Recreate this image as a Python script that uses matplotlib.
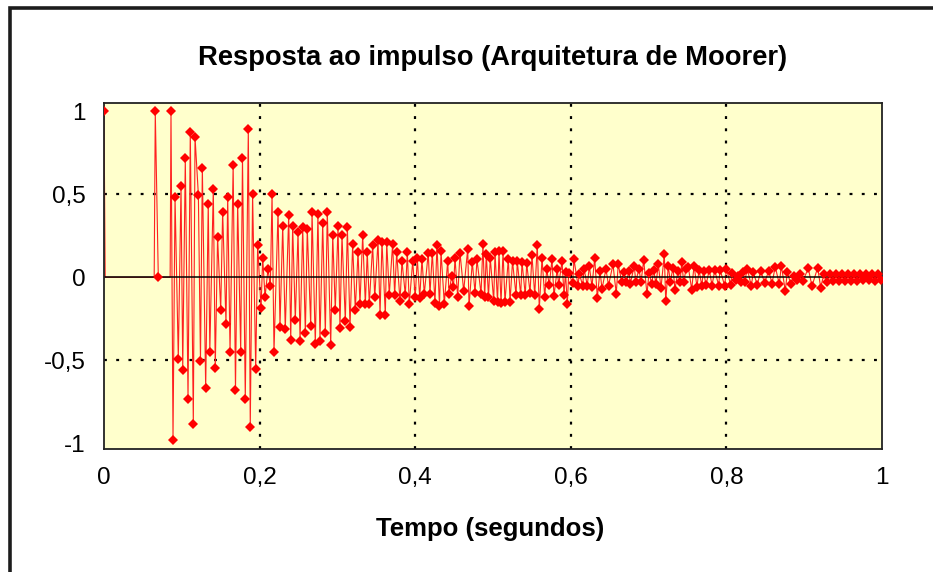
import matplotlib
matplotlib.use("Agg")
import matplotlib.pyplot as plt
from matplotlib.patches import Rectangle
import numpy as np

plt.rcParams['font.family'] = ['Liberation Sans', 'DejaVu Sans']

# ---- data ----
title = "Resposta ao impulso (Arquitetura de Moorer)"
xlabel = "Tempo (segundos)"
x_ticks = [0, 0.2, 0.4, 0.6, 0.8, 1]
x_ticklabels = ["0", "0,2", "0,4", "0,6", "0,8", "1"]
y_ticks = [-1, -0.5, 0, 0.5, 1]
y_ticklabels = ["-1", "-0,5", "0", "0,5", "1"]

# samples without a visible marker (silent stretches at zero)
t_silent = [0.0015, 0.0645, 0.0715, 0.0850]
y_silent = [0.0, 0.0, 0.0, 0.0]

# samples drawn with a marker
t_marked = [
    0.000, 0.0659, 0.0698, 0.0861, 0.0887, 0.0913, 0.0955, 0.0990, 0.1012, 0.1045,
    0.1080, 0.1109, 0.1148, 0.1170, 0.1213, 0.1240, 0.1264, 0.1307, 0.1340, 0.1360,
    0.1405, 0.1430, 0.1460, 0.1500, 0.1525, 0.1568, 0.1590, 0.1620, 0.1660, 0.1690,
    0.1718, 0.1757, 0.1780, 0.1816, 0.1855, 0.1880, 0.1910, 0.1950, 0.1975, 0.2018,
    0.2040, 0.2070, 0.2108, 0.2138, 0.2160, 0.2185,
    0.2237, 0.2262, 0.2297, 0.2330, 0.2374, 0.2400, 0.2425, 0.2459, 0.2494, 0.2520,
    0.2554, 0.2588, 0.2613, 0.2657, 0.2674, 0.2716, 0.2750, 0.2776, 0.2811, 0.2845,
    0.2870, 0.2914, 0.2940, 0.2973, 0.3008, 0.3033, 0.3059, 0.3102, 0.3128, 0.3162,
    0.3196, 0.3230, 0.3265, 0.3290, 0.3325, 0.3359, 0.3384, 0.3410, 0.3453, 0.3480,
    0.3522, 0.3548, 0.3573, 0.3616, 0.3634, 0.3667, 0.3710, 0.3736, 0.3762, 0.3805,
    0.3830, 0.3873, 0.3899, 0.3924, 0.3968, 0.4000,
    0.4027, 0.4058, 0.4087, 0.4117, 0.4168, 0.4190, 0.4220, 0.4254, 0.4280, 0.4312,
    0.4332, 0.4374, 0.4418, 0.4434, 0.4469, 0.4492, 0.4512, 0.4546, 0.4576, 0.4623,
    0.4675, 0.4692, 0.4734, 0.4769, 0.4794, 0.4846, 0.4871, 0.4893, 0.4914, 0.4942,
    0.4965, 0.5009, 0.5026, 0.5058, 0.5077, 0.5103, 0.5129, 0.5154, 0.5197, 0.5219,
    0.5251, 0.5296, 0.5312, 0.5356, 0.5373, 0.5415, 0.5433, 0.5476, 0.5501, 0.5536,
    0.5569, 0.5595, 0.5630, 0.5665, 0.5690, 0.5724, 0.5758, 0.5784, 0.5826, 0.5844,
    0.5887, 0.5913, 0.5932, 0.5955, 0.5973, 0.6024, 0.6041, 0.6093, 0.6110, 0.6153,
    0.6170, 0.6212, 0.6238, 0.6272, 0.6307, 0.6341, 0.6375, 0.6401, 0.6452, 0.6485,
    0.6542, 0.6584, 0.6610, 0.6654, 0.6680, 0.6713, 0.6748, 0.6765, 0.6816, 0.6834,
    0.6877, 0.6902, 0.6937, 0.6979, 0.7005, 0.7040, 0.7066, 0.7095, 0.7125, 0.7159,
    0.7202, 0.7220, 0.7253, 0.7279, 0.7314, 0.7339, 0.7378, 0.7404, 0.7426, 0.7451,
    0.7481, 0.7510, 0.7554, 0.7584, 0.7622, 0.7648, 0.7683, 0.7706, 0.7738, 0.7780,
    0.7815, 0.7850, 0.7901, 0.7918, 0.7978, 0.8001, 0.8055, 0.8072, 0.8123, 0.8149,
    0.8188, 0.8213, 0.8233, 0.8269, 0.8320, 0.8346, 0.8397, 0.8441, 0.8492, 0.8544,
    0.8586, 0.8628, 0.8680, 0.8706, 0.8757, 0.8783, 0.8826, 0.8869, 0.8904, 0.8946,
    0.8985, 0.9053, 0.9100, 0.9173, 0.9212, 0.9254, 0.9293, 0.9332, 0.9370, 0.9409,
    0.9447, 0.9486, 0.9524, 0.9563, 0.9602, 0.9640, 0.9679, 0.9717, 0.9756, 0.9794,
    0.9833, 0.9871, 0.9910, 0.9949, 0.9987,
]
y_marked = [
    1.000, 1.000, 0.000, 1.000, -0.980, 0.485, -0.490, 0.550, -0.557, 0.717,
    -0.733, 0.877, -0.885, 0.845, 0.497, -0.505, 0.660, -0.669, 0.444, -0.449,
    0.533, -0.549, 0.242, -0.200, 0.396, -0.280, 0.485, -0.449, 0.677, -0.680,
    0.444, -0.449, 0.717, -0.733, 0.893, -0.900, 0.500, -0.553, 0.195, -0.188,
    0.115, -0.118, 0.050, -0.055, 0.500, -0.450,
    0.396, -0.298, 0.308, -0.314, 0.374, -0.378, 0.308, -0.258, 0.274, -0.386,
    0.302, -0.338, 0.292, -0.294, 0.396, -0.402, 0.382, -0.386, 0.326, -0.338,
    0.396, -0.410, 0.252, -0.198, 0.308, -0.306, 0.252, -0.266, 0.302, -0.298,
    0.198, -0.198, 0.152, -0.162, 0.254, -0.162, 0.152, -0.162, 0.194, -0.122,
    0.222, -0.226, 0.214, -0.226, 0.210, -0.106, 0.202, -0.106, 0.150, -0.146,
    0.098, -0.106, 0.150, -0.162, 0.098, -0.122,
    0.116, -0.124, 0.108, -0.100, 0.148, -0.100, 0.148, -0.156, 0.196, -0.176,
    0.156, -0.160, 0.100, -0.100, 0.010, -0.060, 0.116, -0.120, 0.148, -0.084,
    0.172, -0.176, 0.092, -0.092, 0.108, -0.100, 0.200, -0.120, 0.140, -0.120,
    0.116, -0.144, 0.152, -0.150, 0.156, -0.156, 0.156, -0.148, 0.112, -0.148,
    0.096, -0.108, 0.096, -0.108, 0.092, -0.108, 0.084, -0.092, 0.132, -0.108,
    0.196, -0.192, 0.116, -0.120, 0.048, -0.048, 0.108, -0.112, 0.052, -0.048,
    0.096, -0.104, 0.030, -0.164, 0.024, -0.035, 0.108, -0.050, 0.020, -0.050,
    0.052, -0.050, 0.068, -0.056, 0.116, -0.124, 0.040, -0.070, 0.050, -0.050,
    0.078, -0.098, 0.078, -0.026, 0.030, -0.030, 0.038, -0.040, 0.070, -0.026,
    0.050, -0.030, 0.102, -0.102, 0.025, -0.038, 0.042, -0.040, 0.078, -0.066,
    0.138, -0.146, 0.068, -0.026, 0.056, -0.074, 0.040, -0.030, 0.090, -0.030,
    0.050, 0.064, -0.074, 0.070, -0.058, 0.046, -0.050, 0.038, -0.048, 0.046,
    -0.050, 0.042, -0.050, 0.046, -0.052, 0.050, -0.046, 0.026, -0.018, 0.006,
    -0.030, 0.030, -0.030, 0.050, -0.052, 0.030, -0.046, 0.038, -0.034, 0.040,
    -0.038, 0.064, -0.042, 0.070, -0.082, 0.030, -0.038, 0.006, -0.018, 0.020,
    -0.020, 0.054, -0.054, 0.058, -0.062, 0.020, -0.030, 0.022, -0.020, 0.022,
    -0.020, 0.020, -0.022, 0.020, -0.020, 0.018, -0.020, 0.020, -0.018, 0.020,
    -0.018, 0.018, -0.020, 0.018, -0.016,
]

# ---- figure ----
W, H = 933, 572
fig = plt.figure(figsize=(W / 100, H / 100), dpi=100)
fig.patch.set_facecolor('white')

# outer chart frame (continues past the right/bottom edge of the picture)
fig.add_artist(Rectangle((10 / W, -0.2), 1.2, 1.2 - 8 / H,
                         transform=fig.transFigure, fill=False,
                         edgecolor='#1c1c1c', linewidth=2.6, zorder=0))

ax = fig.add_axes([104 / W, 1 - 449 / H, (882 - 104) / W, (449 - 103) / H])
ax.set_facecolor('#FFFFCC')
ax.set_xlim(0, 1)
ax.set_ylim(-1.035, 1.05)

for v in [0.2, 0.4, 0.6, 0.8]:
    ax.axvline(v, color='black', linestyle=(0, (1.3, 4.2)), linewidth=1.6, zorder=1)
for v in [-0.5, 0.5]:
    ax.axhline(v, color='black', linestyle=(0, (1.3, 4.2)), linewidth=1.6, zorder=1)

t_line = np.array(t_marked + t_silent)
y_line = np.array(y_marked + y_silent)
order = np.argsort(t_line)
ax.plot(t_line[order], y_line[order], color='#FF2020', linewidth=0.8, zorder=2)
ax.axhline(0, color='black', linewidth=1.1, zorder=2.5)
ax.plot(t_marked, y_marked, linestyle='none', marker='D', markersize=5,
        color='#FF0000', markeredgewidth=0, zorder=3)

ax.set_xticks(x_ticks)
ax.set_xticklabels(x_ticklabels)
ax.set_yticks(y_ticks)
ax.set_yticklabels(y_ticklabels)
ax.tick_params(axis='both', length=0, labelsize=17.5, colors='black')
ax.tick_params(axis='x', pad=13)
ax.tick_params(axis='y', pad=13)
for s in ax.spines.values():
    s.set_linewidth(1.3)
    s.set_color('#222222')

fig.text(493 / W, 1 - 58 / H, title, ha='center', va='center',
         fontsize=19.7, fontweight='bold')
fig.text(490 / W, 1 - 529 / H, xlabel, ha='center', va='center',
         fontsize=18.5, fontweight='bold')

fig.savefig('out.png', dpi=100)
